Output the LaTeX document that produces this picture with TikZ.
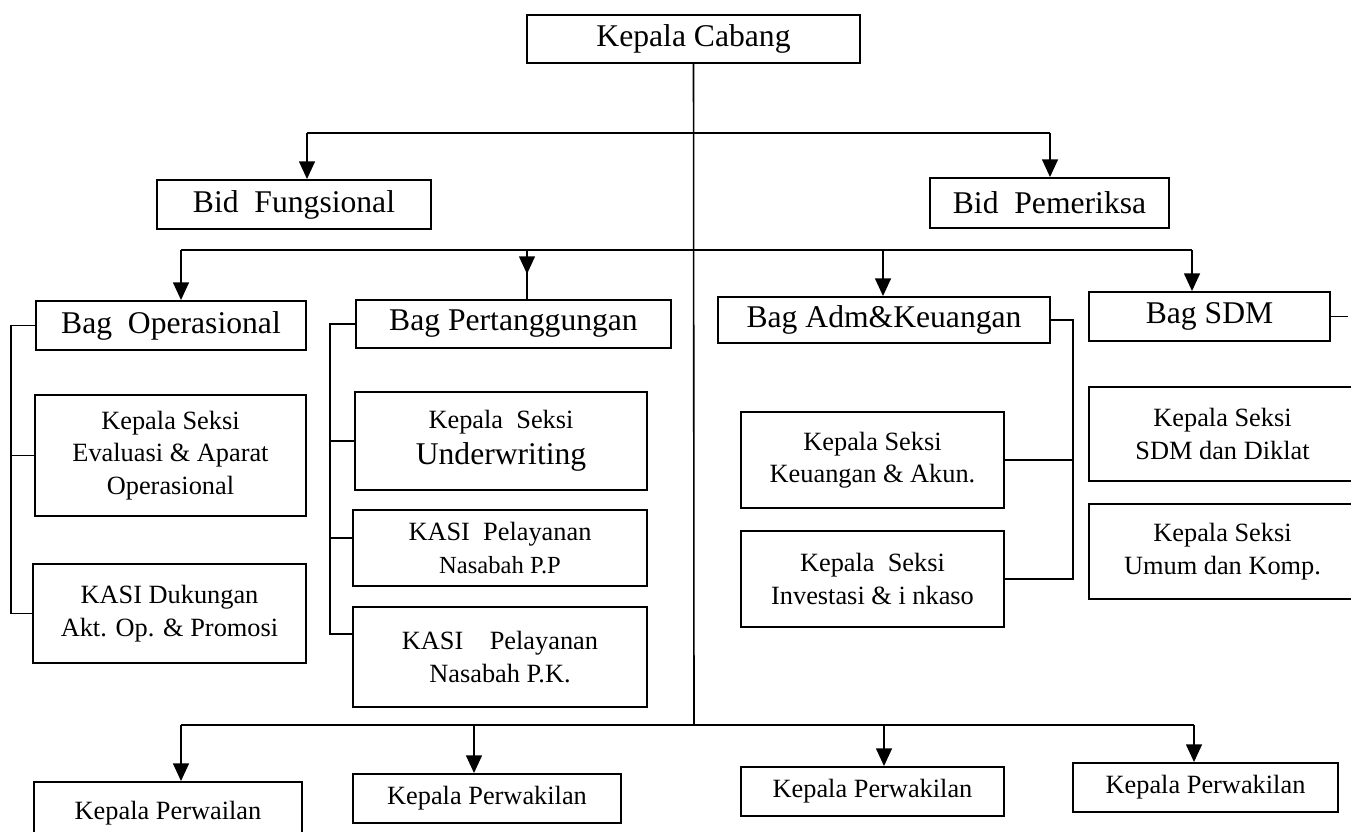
\documentclass[tikz,border=0pt]{standalone}
\usepackage{fontspec}
\setmainfont{Liberation Serif}
\usetikzlibrary{arrows.meta}
\tikzset{
  unit/.style={draw, line width=1.1pt, align=center, inner sep=0pt,
    font=\fontsize{15}{18.5}\selectfont},
  head/.style={unit, font=\fontsize{18}{21}\selectfont},
  link/.style={line width=0.9pt},
  arr/.style={link, -{Triangle[length=10pt,width=9pt]}}
}
\begin{document}
\begin{tikzpicture}[x=0.02cm, y=-0.02cm]
  \useasboundingbox (0,0) rectangle (1351,831);
  \node[head, minimum width=6.66cm, minimum height=0.96cm] (cabang) at (693.5,39) {Kepala Cabang};
  \node[head, minimum width=5.48cm, minimum height=0.98cm] (fung) at (294,204.5) {Bid\ \ Fungsional};
  \node[head, minimum width=4.78cm, minimum height=1.0cm] (pem) at (1049.5,203) {Bid\ \ Pemeriksa};
  \node[head, minimum width=5.4cm, minimum height=0.98cm] (opr) at (171,325.5) {Bag\ \ Operasional};
  \node[head, minimum width=6.3cm, minimum height=0.96cm] (pert) at (513.5,324) {Bag Pertanggungan};
  \node[head, minimum width=6.64cm, minimum height=0.92cm] (adm) at (884,320) {Bag Adm\&Keuangan};
  \node[head, minimum width=4.82cm, minimum height=0.98cm] (sdm) at (1209.5,316.5) {Bag SDM};
  \node[unit, minimum width=5.42cm, minimum height=2.42cm] (eva) at (170.5,455.5) {Kepala Seksi\\Evaluasi \& Aparat\\Operasional};
  \node[unit, minimum width=5.46cm, minimum height=1.98cm] (duk) at (169.5,613.5) {KASI Dukungan\\Akt. Op. \& Promosi};
  \node[unit, minimum width=5.84cm, minimum height=1.96cm] (und) at (501,441) {Kepala\ \ Seksi\\[2pt]{\fontsize{18}{21}\selectfont Underwriting}};
  \node[unit, minimum width=5.88cm, minimum height=1.52cm] (pp) at (500,548) {KASI\ \ Pelayanan\\{\fontsize{14}{16}\selectfont Nasabah P.P}};
  \node[unit, minimum width=5.88cm, minimum height=2.0cm] (pk) at (500,657) {KASI\ \ \ \ Pelayanan\\Nasabah P.K.};
  \node[unit, minimum width=5.26cm, minimum height=1.92cm] (keu) at (872.5,460) {Kepala Seksi\\Keuangan \& Akun.};
  \node[unit, minimum width=5.26cm, minimum height=1.92cm] (inv) at (872.5,579) {Kepala\ \ Seksi\\Investasi \& i nkaso};
  \node[unit, minimum width=5.34cm, minimum height=1.88cm] (dik) at (1222.5,434) {Kepala Seksi\\SDM dan Diklat};
  \node[unit, minimum width=5.34cm, minimum height=1.9cm] (umu) at (1222.5,551.5) {Kepala Seksi\\Umum dan Komp.};
  \node[unit, minimum width=5.36cm, minimum height=1.26cm] (pw1) at (168,813.5) {Kepala Perwailan};
  \node[unit, minimum width=5.36cm, minimum height=0.98cm] (pw2) at (487,798.5) {Kepala Perwakilan};
  \node[unit, minimum width=5.26cm, minimum height=0.98cm] (pw3) at (872.5,791.5) {Kepala Perwakilan};
  \node[unit, minimum width=5.3cm, minimum height=0.98cm] (pw4) at (1205.5,787.5) {Kepala Perwakilan};

  \coordinate (t) at (694,725);
  \coordinate (a1) at (307,133);
  \coordinate (a2) at (1050,133);
  \coordinate (b1) at (181,250);
  \coordinate (b2) at (527,250);
  \coordinate (b2h) at (527,274);
  \coordinate (b3) at (883,250);
  \coordinate (b4) at (1192,250);
  \coordinate (c1) at (181,725);
  \coordinate (c2) at (474,725);
  \coordinate (c3) at (884,725);
  \coordinate (c4) at (1194,725);
  \coordinate (lb) at (11,0);
  \coordinate (pb) at (330,0);
  \coordinate (ab) at (1073,0);
  \coordinate (se) at (1348,0);
  \coordinate (ppl) at ([yshift=0.2cm]pp.west);
  \coordinate (pkl) at ([yshift=0.46cm]pk.west);

  \begin{scope}[link]
    \draw (cabang.south) -- (t);
    \draw (a1) -- (a2);
    \draw (b1) -- (b4);
    \draw (c1) -- (c4);
    \draw (b2) -- (b2 |- pert.north);
    \draw (opr.west) -- (opr.west -| lb) |- (duk.west);
    \draw (eva.west) -- (eva.west -| lb);
    \draw (pert.west) -- (pert.west -| pb) |- (pkl);
    \draw (und.west) -- (und.west -| pb);
    \draw (ppl) -- (ppl -| pb);
    \draw (adm.east) -- (adm.east -| ab) |- (inv.east);
    \draw (keu.east) -- (keu.east -| ab);
    \draw (sdm.east) -- (sdm.east -| se);
  \end{scope}
  \begin{scope}[arr]
    \draw (a1) -- (a1 |- fung.north);
    \draw (a2) -- (a2 |- pem.north);
    \draw (b1) -- (b1 |- opr.north);
    \draw (b2) -- (b2h);
    \draw (b3) -- (b3 |- adm.north);
    \draw (b4) -- (b4 |- sdm.north);
    \draw (c1) -- (c1 |- pw1.north);
    \draw (c2) -- (c2 |- pw2.north);
    \draw (c3) -- (c3 |- pw3.north);
    \draw (c4) -- (c4 |- pw4.north);
  \end{scope}
\end{tikzpicture}
\end{document}
